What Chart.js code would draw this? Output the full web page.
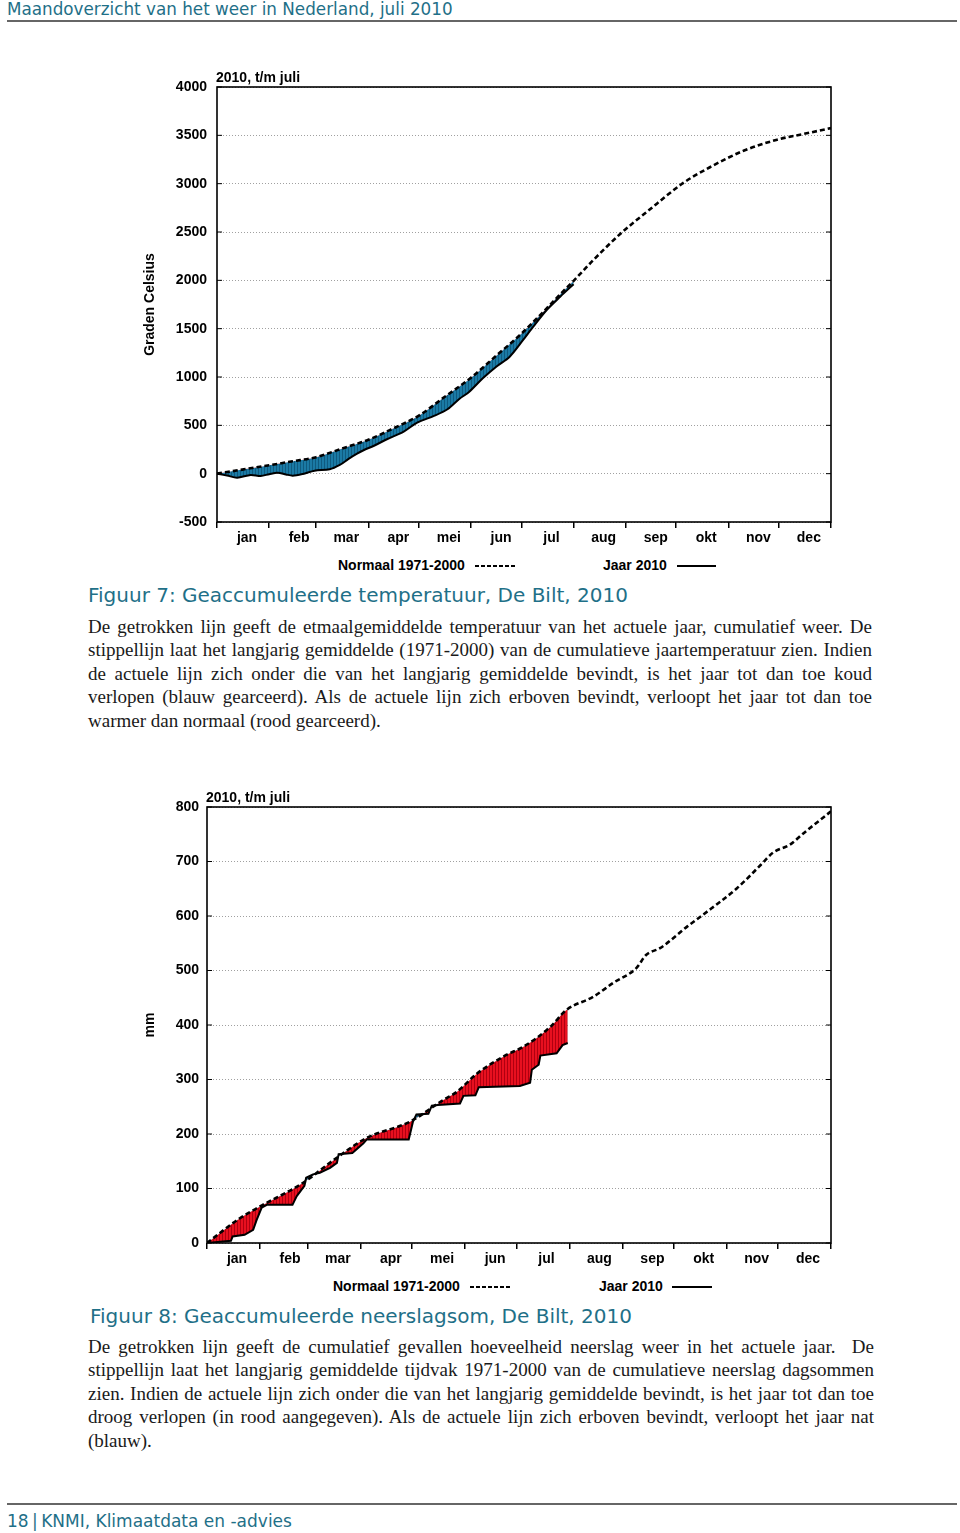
<!DOCTYPE html>
<html lang="nl">
<head>
<meta charset="utf-8">
<title>Maandoverzicht van het weer in Nederland, juli 2010</title>
<script src="https://cdn.jsdelivr.net/npm/chart.js@4.4.1/dist/chart.umd.min.js"></script>
<style>
  html, body { margin: 0; padding: 0; background: #fff; }
  body { width: 960px; height: 1533px; position: relative; overflow: hidden; }
  .kop { position: absolute; left: 7px; font-family: "DejaVu Sans", Verdana, sans-serif; color: #1f7088; white-space: nowrap; }
  .lijn { position: absolute; left: 7px; width: 950px; height: 2px; background: #666; }
  .grafiek { position: absolute; left: 130px; width: 720px; height: 490px; }
  .leg { position: absolute; font: bold 14px "Liberation Sans", Arial, sans-serif; color: #000; white-space: nowrap; line-height: 16px; }
  .stip { position: absolute; height: 2px; background: repeating-linear-gradient(90deg, #000 0 4px, transparent 4px 6px); }
  .vol { position: absolute; height: 2px; background: #000; }
  .bijschrift { position: absolute; font-family: "DejaVu Sans", Verdana, sans-serif; font-size: 20px; color: #1f7088; white-space: nowrap; line-height: 24px; }
  .tekst { position: absolute; left: 88px; font-family: "Liberation Serif", "Times New Roman", serif; font-size: 19px; color: #1a1a1a; line-height: 23.4px; }
  .tekst div { white-space: nowrap; text-align: justify; text-align-last: justify; }
  .tekst div.laatst { text-align-last: left; }
</style>
</head>
<body>

<div class="kop" style="top:-1px;font-size:16.8px;">Maandoverzicht van het weer in Nederland, juli 2010</div>
<div class="lijn" style="top:20px;"></div>

<div class="grafiek" style="top:60px;"><canvas id="temp"></canvas></div>
<div class="leg" style="left:338px;top:557px;">Normaal 1971-2000</div>
<div class="stip" style="left:475px;top:565px;width:40px;"></div>
<div class="leg" style="left:603px;top:557px;">Jaar 2010</div>
<div class="vol" style="left:677px;top:565px;width:39px;"></div>

<div class="bijschrift" style="left:88px;top:583px;">Figuur 7: Geaccumuleerde temperatuur, De Bilt, 2010</div>
<div class="tekst" style="top:615px;width:784px;">
  <div>De getrokken lijn geeft de etmaalgemiddelde temperatuur van het actuele jaar, cumulatief weer. De</div>
  <div>stippellijn laat het langjarig gemiddelde (1971-2000) van de cumulatieve jaartemperatuur zien. Indien</div>
  <div>de actuele lijn zich onder die van het langjarig gemiddelde bevindt, is het jaar tot dan toe koud</div>
  <div>verlopen (blauw gearceerd). Als de actuele lijn zich erboven bevindt, verloopt het jaar tot dan toe</div>
  <div class="laatst">warmer dan normaal (rood gearceerd).</div>
</div>

<div class="grafiek" style="top:780px;"><canvas id="neerslag"></canvas></div>
<div class="leg" style="left:333px;top:1278px;">Normaal 1971-2000</div>
<div class="stip" style="left:470px;top:1286px;width:41px;"></div>
<div class="leg" style="left:599px;top:1278px;">Jaar 2010</div>
<div class="vol" style="left:672px;top:1286px;width:40px;"></div>

<div class="bijschrift" style="left:90px;top:1304px;">Figuur 8: Geaccumuleerde neerslagsom, De Bilt, 2010</div>
<div class="tekst" style="top:1335px;width:786px;">
  <div>De getrokken lijn geeft de cumulatief gevallen hoeveelheid neerslag weer in het actuele jaar.&nbsp; De</div>
  <div>stippellijn laat het langjarig gemiddelde tijdvak 1971-2000 van de cumulatieve neerslag dagsommen</div>
  <div>zien. Indien de actuele lijn zich onder die van het langjarig gemiddelde bevindt, is het jaar tot dan toe</div>
  <div>droog verlopen (in rood aangegeven). Als de actuele lijn zich erboven bevindt, verloopt het jaar nat</div>
  <div class="laatst">(blauw).</div>
</div>

<div class="lijn" style="top:1503px;"></div>
<div class="kop" style="top:1511px;font-size:17px;">18&thinsp;|&thinsp;KNMI, Klimaatdata en -advies</div>

<script>
// maanden en dagnummers (dag 0 = 1 januari)
const maanden = ["jan", "feb", "mar", "apr", "mei", "jun", "jul", "aug", "sep", "okt", "nov", "dec"];
const maandStart = [0, 31, 59, 90, 120, 151, 181, 212, 243, 273, 304, 334, 365];

// temperatuursom (graden Celsius)
const tempTicks = [-500, 0, 500, 1000, 1500, 2000, 2500, 3000, 3500, 4000];
const tempNormaalDag = [0, 15, 31, 45, 59, 74, 90, 105, 120, 135, 151, 166, 181, 196, 204, 212, 224, 240, 256, 277, 293, 313, 333, 349, 365];
const tempNormaal = [0, 42, 87, 128, 171, 258, 351, 470, 600, 790, 993, 1220, 1449, 1710, 1855, 1995, 2215, 2485, 2715, 3005, 3170, 3340, 3455, 3515, 3575];
const temp2010Dag = [0, 6, 12, 20, 26, 31, 36, 41, 45, 51, 58, 67, 73, 78, 83, 88, 93, 101, 111, 119, 129, 137, 144, 150, 158, 166, 174, 182, 188, 196, 204, 212];
const temp2010 = [0, -20, -41, -13, -24, -5, 10, -8, -21, -3, 31, 45, 90, 150, 204, 250, 286, 356, 435, 528, 597, 666, 773, 848, 987, 1107, 1210, 1383, 1521, 1693, 1830, 1960];

// neerslagsom (mm)
const neerslagTicks = [0, 100, 200, 300, 400, 500, 600, 700, 800];
const neerslagNormaalDag = [0, 19, 31, 56, 74, 93, 119, 138, 146, 158, 175, 185, 201, 210, 226, 238, 251, 257, 265, 281, 290, 310, 324, 331, 341, 349, 365];
const neerslagNormaal = [0, 45, 67, 110, 152, 192, 223, 262, 277, 311, 345, 360, 397, 427, 452, 478, 504, 529, 541, 581, 602, 651, 694, 716, 731, 752, 792];
const neerslag2010Dag = [0, 14, 15, 22, 27, 29, 32, 35, 50, 52.5, 57, 58, 62, 66, 72, 76, 77, 85, 91.5, 93.5, 118, 120.5, 122.5, 129.5, 131.5, 135, 148, 150, 157, 159, 183, 189, 190, 194, 195, 204.5, 208, 211];
const neerslag2010 = [0, 4, 12, 15, 24, 42, 65, 70, 70, 86, 105, 120, 126, 129, 138, 147, 163, 165, 183, 190, 190, 223, 236, 237, 252, 253, 256, 270, 271, 286, 288, 294, 318, 327, 344, 348, 363, 367];

Chart.defaults.font.family = '"Liberation Sans", Arial, sans-serif';
Chart.defaults.font.size = 14;
Chart.defaults.font.weight = "bold";
Chart.defaults.color = "#000";
Chart.defaults.animation = false;

function punten(dagen, waarden) {
    return dagen.map((d, i) => ({ x: d, y: waarden[i] }));
}

// gearceerde vulling
function arcering(canvasId, kleur, streep) {
    const c = document.createElement("canvas");
    c.width = 3; c.height = 4;
    const g = c.getContext("2d");
    g.fillStyle = kleur; g.fillRect(0, 0, 3, 4);
    g.fillStyle = streep; g.fillRect(2, 0, 1, 4);
    return document.getElementById(canvasId).getContext("2d").createPattern(c, "repeat");
}

// kader, y-streepjes en titel linksboven
const kader = {
    id: "kader",
    afterDraw(chart, args, opts) {
        const { ctx, chartArea: a } = chart;
        const y = chart.scales.y;
        ctx.save();
        ctx.strokeStyle = "#000";
        ctx.lineWidth = 1;
        y.ticks.forEach(t => {
            const py = y.getPixelForValue(t.value);
            ctx.beginPath();
            ctx.moveTo(a.left, py); ctx.lineTo(a.left + 5, py);
            ctx.moveTo(a.right, py); ctx.lineTo(a.right - 5, py);
            ctx.stroke();
        });
        ctx.lineWidth = 1.6;
        ctx.strokeRect(a.left, a.top, a.right - a.left, a.bottom - a.top);
        ctx.fillStyle = "#000";
        ctx.font = 'bold 14px "Liberation Sans", Arial, sans-serif';
        ctx.textBaseline = "bottom";
        ctx.fillText(opts.tekst, a.left - 1, a.top - 2);
        ctx.restore();
    }
};

function grafiek(id, o) {
    return new Chart(document.getElementById(id), {
        type: "line",
        data: {
            datasets: [{
                label: "Normaal 1971-2000",
                data: punten(o.normDag, o.norm),
                borderColor: "#000",
                borderWidth: 2.6,
                borderDash: [5, 3],
                pointRadius: 0,
                fill: false,
                cubicInterpolationMode: "monotone"
            }, {
                label: "Jaar 2010",
                data: punten(o.jaarDag, o.jaar),
                borderColor: "#000",
                borderWidth: 2,
                pointRadius: 0,
                tension: o.spanning,
                fill: { target: 0, above: o.boven, below: o.onder }
            }]
        },
        options: {
            responsive: true,
            maintainAspectRatio: false,
            layout: { padding: { top: 27, right: 19, left: 0, bottom: 0 } },
            plugins: {
                legend: { display: false },
                tooltip: { enabled: false },
                kader: { tekst: "2010, t/m juli" }
            },
            scales: {
                x: {
                    type: "linear",
                    min: 0,
                    max: 365,
                    afterBuildTicks: s => { s.ticks = maandStart.map(v => ({ value: v })); },
                    afterFit: s => { s.height = o.xHoogte; },
                    ticks: {
                        autoSkip: false,
                        maxRotation: 0,
                        padding: 2,
                        labelOffset: 30,
                        callback: (v, i) => maanden[i] || ""
                    },
                    grid: { drawOnChartArea: false, drawTicks: true, tickLength: 6, color: "#000", lineWidth: 1.5 },
                    border: { display: false }
                },
                y: {
                    min: o.ticks[0],
                    max: o.ticks[o.ticks.length - 1],
                    afterBuildTicks: s => { s.ticks = o.ticks.map(v => ({ value: v })); },
                    afterFit: s => { s.width = o.yBreedte; },
                    ticks: { padding: o.yPad, callback: v => String(v) },
                    grid: { color: "#a0a0a0", lineWidth: 1, drawTicks: false },
                    border: { display: false, dash: [1, 2] },
                    title: { display: !!o.yTitel, text: o.yTitel, padding: { top: 12, bottom: 0 }, font: { size: 14, weight: "bold" } }
                }
            }
        },
        plugins: [kader]
    });
}

grafiek("temp", {
    normDag: tempNormaalDag, norm: tempNormaal,
    jaarDag: temp2010Dag, jaar: temp2010,
    spanning: 0.3,
    boven: arcering("temp", "#e8101f", "#b00010"),
    onder: arcering("temp", "#1b7aa5", "#0f5b80"),
    ticks: tempTicks,
    yBreedte: 87, yPad: 10, xHoogte: 28,
    yTitel: "Graden Celsius"
});

grafiek("neerslag", {
    normDag: neerslagNormaalDag, norm: neerslagNormaal,
    jaarDag: neerslag2010Dag, jaar: neerslag2010,
    spanning: 0,
    boven: arcering("neerslag", "#1b7aa5", "#0f5b80"),
    onder: arcering("neerslag", "#e8101f", "#b00010"),
    ticks: neerslagTicks,
    yBreedte: 77, yPad: 8, xHoogte: 27,
    yTitel: "mm"
});
</script>
</body>
</html>
